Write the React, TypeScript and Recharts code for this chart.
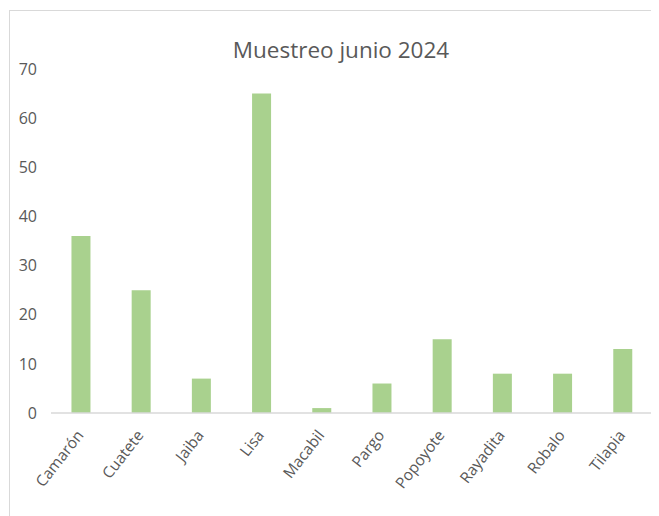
import React from 'react';
import { BarChart, Bar, XAxis, YAxis } from 'recharts';

const species = ['Camarón', 'Cuatete', 'Jaiba', 'Lisa', 'Macabil', 'Pargo', 'Popoyote', 'Rayadita', 'Robalo', 'Tilapia'];
const counts = [36, 25, 7, 65, 1, 6, 15, 8, 8, 13];
const yTicks = [0, 10, 20, 30, 40, 50, 60, 70];

const data = species.map((name, i) => ({ name, value: counts[i] }));

const FONT = '"Open Sans", sans-serif';
const TEXT = '#595959';

function SpeciesTick(props: any) {
  const { x, y, payload } = props;
  return (
    <g transform={`translate(${x},${y + 12})`}>
      <text
        x={0}
        y={0}
        dy={4}
        textAnchor="end"
        transform="rotate(-52)"
        fill={TEXT}
        fontSize={15.5}
        fontFamily={FONT}
      >
        {payload.value}
      </text>
    </g>
  );
}

export default function App() {
  return (
    <div style={{ position: 'relative', width: 651, height: 508, overflow: 'hidden', background: '#fff' }}>
      <div
        style={{
          position: 'absolute',
          left: 1,
          top: 2,
          width: 700,
          height: 600,
          borderLeft: '1px solid #d9d9d9',
          borderTop: '1px solid #d9d9d9',
        }}
      />
      <div
        style={{
          position: 'absolute',
          left: 0,
          top: 26,
          width: 666,
          textAlign: 'center',
          fontFamily: FONT,
          fontSize: 22.5,
          color: TEXT,
        }}
      >
        Muestreo junio 2024
      </div>
      <div style={{ position: 'absolute', left: 0, top: 0 }}>
        <BarChart width={651} height={508} data={data} margin={{ top: 61, right: 6, left: 3, bottom: 0 }} barCategoryGap="34%">
          <XAxis
            dataKey="name"
            axisLine={{ stroke: '#d9d9d9', strokeWidth: 1.5 }}
            tickLine={false}
            tick={<SpeciesTick />}
            interval={0}
            height={103}
          />
          <YAxis
            domain={[0, 70]}
            ticks={yTicks}
            axisLine={false}
            tickLine={false}
            tickSize={0}
            tickMargin={14}
            width={40}
            tick={{ fill: TEXT, fontSize: 16, fontFamily: FONT }}
          />
          <Bar dataKey="value" fill="#a9d18e" isAnimationActive={false} />
        </BarChart>
      </div>
    </div>
  );
}
